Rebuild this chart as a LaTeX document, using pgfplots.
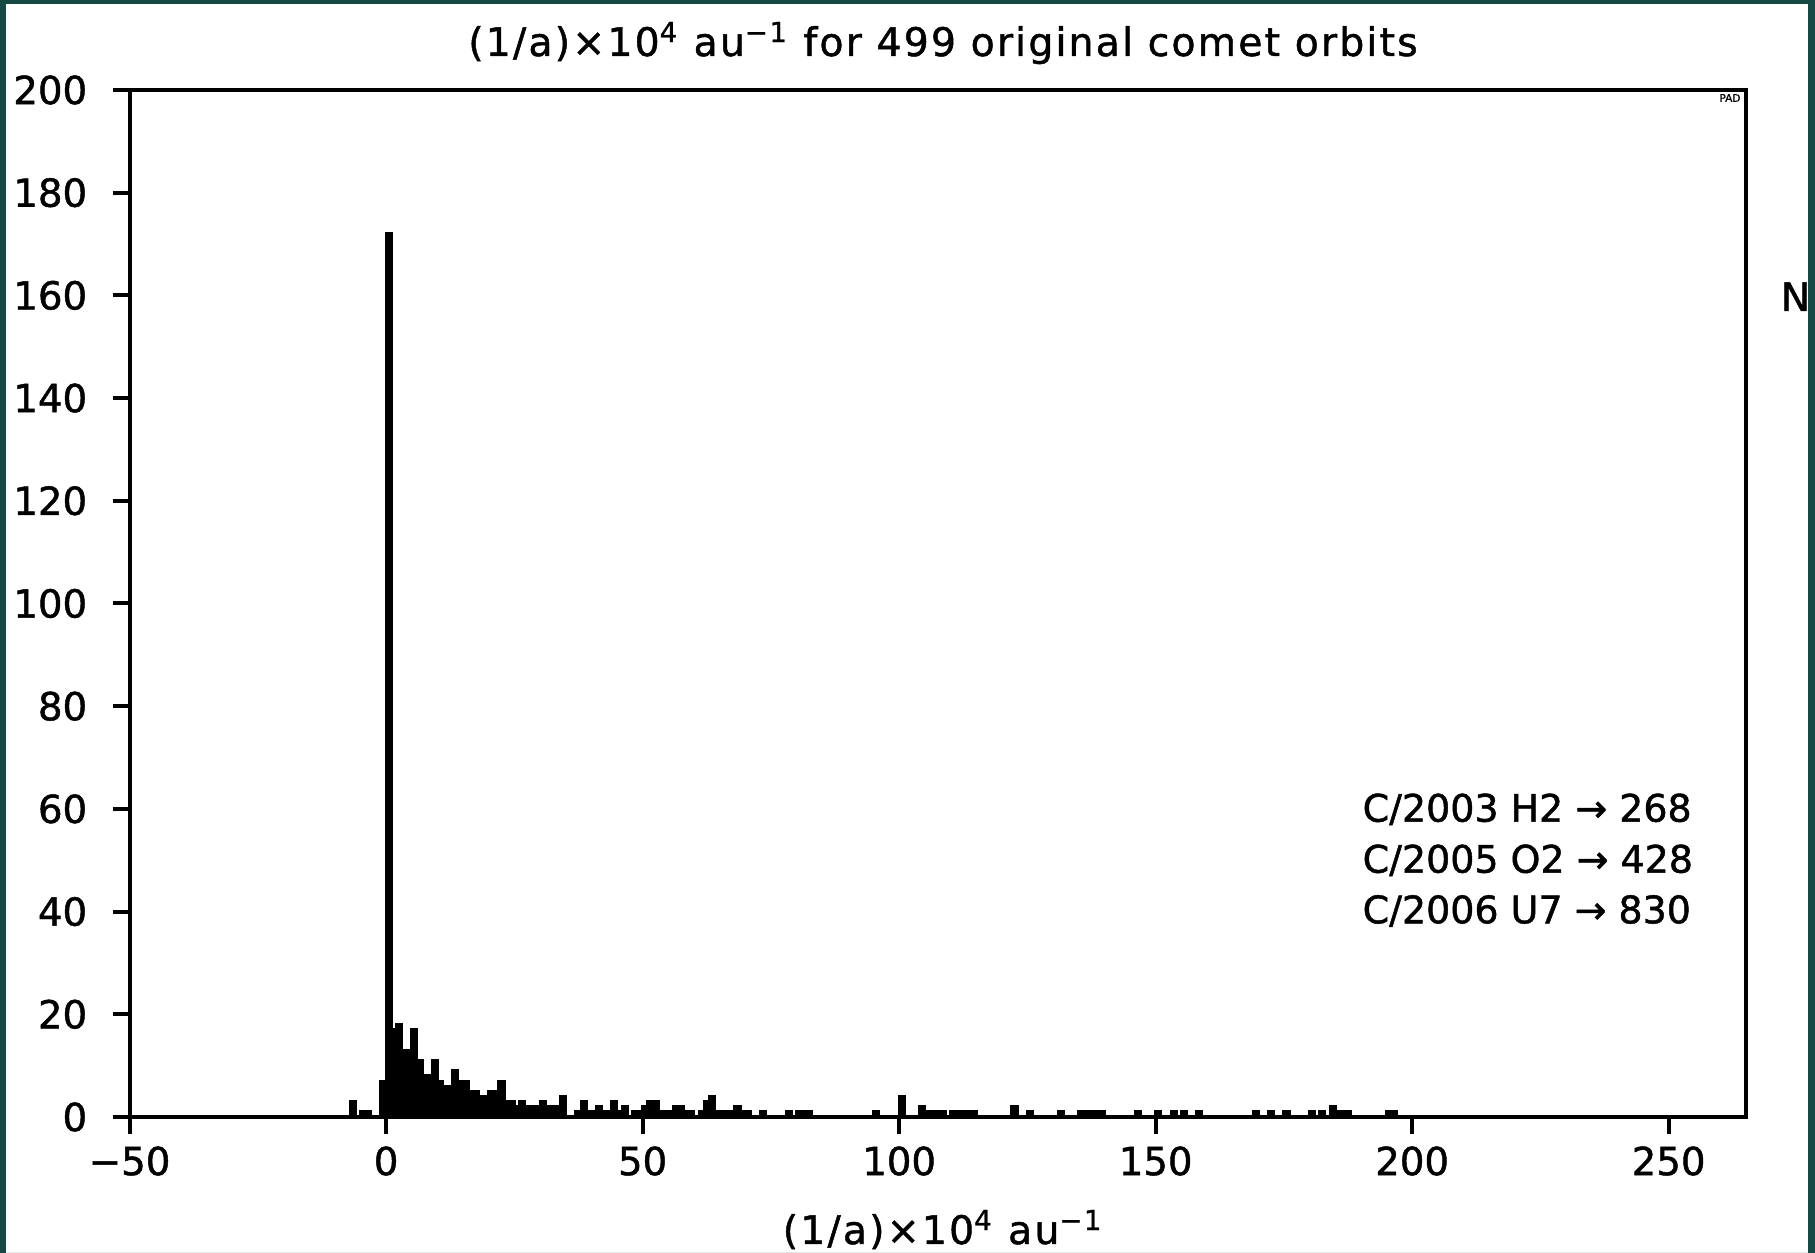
\documentclass[border=0pt]{standalone}
\usepackage{pgfplots}
\pgfplotsset{compat=1.18}
\usepackage{fontspec}
\setmainfont{DejaVu Sans}[FakeBold=1.2]
\newfontfamily\titlefont{DejaVu Sans}[FakeBold=1.2, LetterSpace=5.5]
\definecolor{frame}{RGB}{22,72,68}
\begin{document}
\begin{tikzpicture}[x=1cm,y=1cm]
\path[use as bounding box] (0,0) rectangle (18.15,12.53);
\fill[white] (0,0) rectangle (18.15,12.53);
\begin{axis}[at={(1.296cm,1.36cm)}, anchor=south west, scale only axis,
  width=16.16cm, height=10.27cm,
  xmin=-50, xmax=265, ymin=0, ymax=200,
  xtick={-50,0,50,100,150,200,250},
  xticklabels={−50,0,50,100,150,200,250},
  ytick={0,20,...,200},
  /pgf/number format/assume math mode=true,
  tick align=outside, xtick pos=left, ytick pos=left,
  major tick length=1.7mm,
  axis line style={line width=0.4mm},
  major tick style={black, line width=0.4mm},
  tick label style={font=\fontsize{11}{13}\selectfont},
  yticklabel style={xshift=-1.3mm, font=\fontsize{11}{13}\selectfont},
]
\addplot[ybar, bar width=1, bar shift=0pt, fill=black, draw=black, line width=0.3mm] coordinates {
(-6.5,3) (-4.5,1) (-3.5,1) (-0.5,7) (0.5,172)
(1.5,17) (2.5,18) (3.5,13) (4.5,13) (5.5,17) (6.5,11) (7.5,8) (8.5,8) (9.5,11) (10.5,7)
(11.5,6) (12.5,6) (13.5,9) (14.5,7) (15.5,7) (16.5,5) (17.5,5) (18.5,4) (19.5,4) (20.5,5)
(21.5,5) (22.5,7) (23.5,3) (24.5,3) (25.5,2) (26.5,3) (27.5,2) (28.5,2) (29.5,2) (30.5,3)
(31.5,2) (32.5,2) (33.5,2) (34.5,4) (37.5,1) (38.5,3) (39.5,1) (40.5,1) (41.5,2) (42.5,1)
(43.5,1) (44.5,3) (45.5,1) (46.5,2) (48.5,1) (49.5,1) (50.5,2) (51.5,3) (52.5,3) (53.5,1)
(54.5,1) (55.5,1) (56.5,2) (57.5,2) (58.5,1) (59.5,1) (61.5,1) (62.5,3) (63.5,4) (64.5,1)
(65.5,1) (66.5,1) (67.5,1) (68.5,2) (69.5,1) (70.5,1) (73.5,1) (78.5,1) (80.5,1) (81.5,1)
(82.5,1) (95.5,1) (100.5,4) (104.5,2) (105.5,1) (106.5,1) (107.5,1) (108.5,1) (110.5,1)
(111.5,1) (112.5,1) (113.5,1) (114.5,1) (122.5,2) (125.5,1) (131.5,1) (135.5,1) (136.5,1)
(137.5,1) (138.5,1) (139.5,1) (146.5,1) (150.5,1) (153.5,1) (155.5,1) (158.5,1) (169.5,1)
(172.5,1) (175.5,1) (180.5,1) (182.5,1) (184.5,2) (185.5,1) (186.5,1) (187.5,1) (195.5,1)
(196.5,1)
};
\end{axis}
\node[anchor=base, font=\titlefont\fontsize{11.2}{13}\selectfont] at (9.43,11.97)
  {(1/a)×10\textsuperscript{4} au\textsuperscript{−1} for 499 original comet orbits};
\node[anchor=base, font=\titlefont\fontsize{11.2}{13}\selectfont] at (9.43,0.09)
  {(1/a)×10\textsuperscript{4} au\textsuperscript{−1}};
\node[anchor=base west, inner sep=0pt, font=\fontsize{10.8}{13}\selectfont] at (13.62,4.313) {C/2003 H2 → 268};
\node[anchor=base west, inner sep=0pt, font=\fontsize{10.8}{13}\selectfont] at (13.62,3.803) {C/2005 O2 → 428};
\node[anchor=base west, inner sep=0pt, font=\fontsize{10.8}{13}\selectfont] at (13.62,3.297) {C/2006 U7 → 830};
\node[anchor=base west, inner sep=0pt, font=\fontsize{11.2}{13}\selectfont] at (17.80,9.42) {N};
\node[font=\fontsize{3}{3}\selectfont, inner sep=0pt] at (17.30,11.55) {PAD};
\fill[frame, even odd rule] (0,0) rectangle (18.15,12.53) (0.06,-0.01) rectangle (18.08,12.49);
\end{tikzpicture}
\end{document}
